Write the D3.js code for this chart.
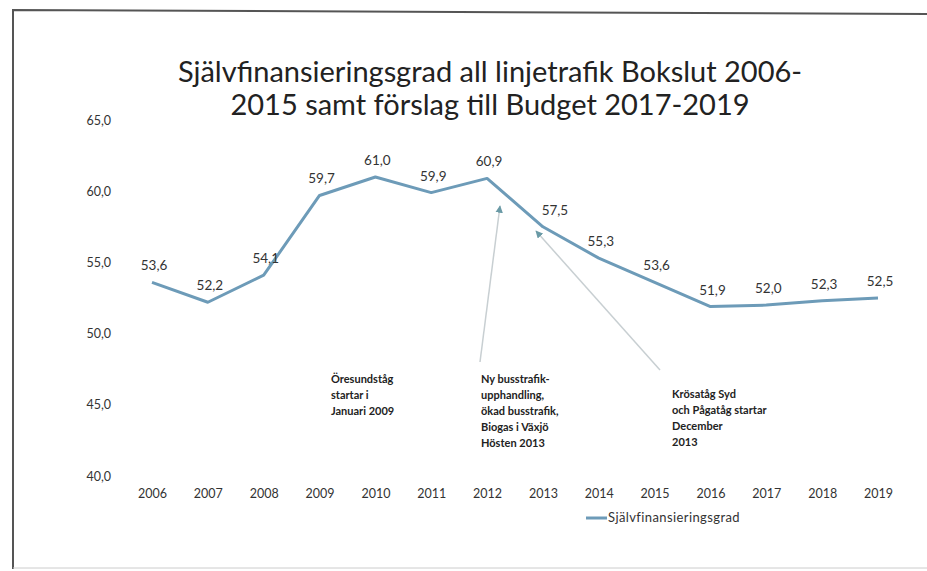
<!DOCTYPE html>
<html>
<head>
<meta charset="utf-8">
<script src="https://cdn.jsdelivr.net/npm/d3@7"></script>
<style>
  body { margin: 0; background: #fff; }
  svg { display: block; }
</style>
</head>
<body>
<div id="chart"></div>
<script>
var years = [2006, 2007, 2008, 2009, 2010, 2011, 2012, 2013, 2014, 2015, 2016, 2017, 2018, 2019];
var values = [53.6, 52.2, 54.1, 59.7, 61.0, 59.9, 60.9, 57.5, 55.3, 53.6, 51.9, 52.0, 52.3, 52.5];
var yTicks = [40, 45, 50, 55, 60, 65];
var titleLines = ['Självfinansieringsgrad all linjetrafik Bokslut 2006-', '2015 samt förslag till Budget 2017-2019'];
var seriesName = 'Självfinansieringsgrad';
var notes = [
  { lines: ['Öresundståg', 'startar i', 'Januari 2009'], year: null },
  { lines: ['Ny busstrafik-', 'upphandling,', 'ökad busstrafik,', 'Biogas i Växjö', 'Hösten 2013'], year: 2012 },
  { lines: ['Krösatåg Syd', 'och Pågatåg startar', 'December', '2013'], year: 2013 }
];

var width = 927, height = 571;
var lineColor = '#6d9bb8';
var textColor = '#333';

var svg = d3.select('#chart')
  .append('svg')
  .attr('width', width)
  .attr('height', height);

// scanned frame
svg.append('path')
  .attr('d', 'M13,569 L13,10 L927,14')
  .attr('fill', 'none')
  .attr('stroke', '#555')
  .attr('stroke-width', 2);
svg.append('line')
  .attr('x1', 13).attr('y1', 568).attr('x2', 927).attr('y2', 568)
  .attr('stroke', '#ccc')
  .attr('stroke-width', 1);

var x = d3.scalePoint()
  .domain(years)
  .range([152, 878]);

var y = d3.scaleLinear()
  .domain([40, 65])
  .range([476, 120]);

var fmt = function(v) { return d3.format('.1f')(v).replace('.', ','); };

// title
svg.append('text')
  .attr('x', 490)
  .attr('text-anchor', 'middle')
  .attr('font-family', 'Lato, sans-serif')
  .attr('font-size', '29px')
  .attr('fill', '#222')
  .selectAll('tspan')
  .data(titleLines)
  .enter()
  .append('tspan')
  .attr('x', 490)
  .attr('y', function(d, i) { return 82 + i * 33; })
  .text(function(d) { return d; });

// y axis
var yAxis = d3.axisLeft(y)
  .tickValues(yTicks)
  .tickFormat(fmt)
  .tickSize(0)
  .tickPadding(0);

svg.append('g')
  .attr('transform', 'translate(111,0)')
  .call(yAxis)
  .call(function(g) { g.select('.domain').remove(); })
  .selectAll('text')
  .attr('font-family', 'Lato, sans-serif')
  .attr('font-size', '12.5px')
  .attr('fill', textColor);

// x axis
var xAxis = d3.axisBottom(x)
  .tickSize(0)
  .tickPadding(0);

svg.append('g')
  .attr('transform', 'translate(0,489)')
  .call(xAxis)
  .call(function(g) { g.select('.domain').remove(); })
  .selectAll('text')
  .attr('font-family', 'Lato, sans-serif')
  .attr('font-size', '12.5px')
  .attr('fill', textColor);

// line
var line = d3.line()
  .x(function(d, i) { return x(years[i]); })
  .y(function(d) { return y(d); });

svg.append('path')
  .datum(values)
  .attr('d', line)
  .attr('fill', 'none')
  .attr('stroke', lineColor)
  .attr('stroke-width', 3)
  .attr('stroke-linejoin', 'round');

// data labels
svg.append('g')
  .selectAll('text')
  .data(values)
  .enter()
  .append('text')
  .attr('x', function(d, i) { return x(years[i]) + (years[i] === 2013 ? 12 : 2); })
  .attr('y', function(d) { return y(d) - 12; })
  .attr('text-anchor', 'middle')
  .attr('font-family', 'Lato, sans-serif')
  .attr('font-size', '13.5px')
  .attr('fill', textColor)
  .text(fmt);

// annotations
var noteX = [331, 481, 672];
var noteY = [383, 383, 398];

svg.append('defs').append('marker')
  .attr('id', 'arrow')
  .attr('viewBox', '0 0 10 10')
  .attr('refX', 9).attr('refY', 5)
  .attr('markerWidth', 5).attr('markerHeight', 5)
  .attr('orient', 'auto')
  .append('path')
  .attr('d', 'M0,0 L10,5 L0,10 z')
  .attr('fill', '#6a9aa6');

var arrowFrom = [null, [480, 362], [660, 370]];
var arrowTo = [null, [500, 206], [536, 231]];

notes.forEach(function(n, k) {
  svg.append('text')
    .attr('font-family', 'Lato, sans-serif')
    .attr('font-size', '11px')
    .attr('font-weight', 'bold')
    .attr('fill', '#222')
    .selectAll('tspan')
    .data(n.lines)
    .enter()
    .append('tspan')
    .attr('x', noteX[k])
    .attr('y', function(d, i) { return noteY[k] + i * 16; })
    .text(function(d) { return d; });

  if (arrowFrom[k]) {
    svg.append('line')
      .attr('x1', arrowFrom[k][0]).attr('y1', arrowFrom[k][1])
      .attr('x2', arrowTo[k][0]).attr('y2', arrowTo[k][1])
      .attr('stroke', '#c8cfd2')
      .attr('stroke-width', 1.5)
      .attr('marker-end', 'url(#arrow)');
  }
});

// legend
var legend = svg.append('g').attr('transform', 'translate(586,518)');
legend.append('line')
  .attr('x1', 0).attr('x2', 21)
  .attr('stroke', lineColor)
  .attr('stroke-width', 3);
legend.append('text')
  .attr('x', 22)
  .attr('y', 4)
  .attr('font-family', 'Lato, sans-serif')
  .attr('font-size', '13px')
  .attr('letter-spacing', '0.4px')
  .attr('fill', textColor)
  .text(seriesName);
</script>
</body>
</html>
